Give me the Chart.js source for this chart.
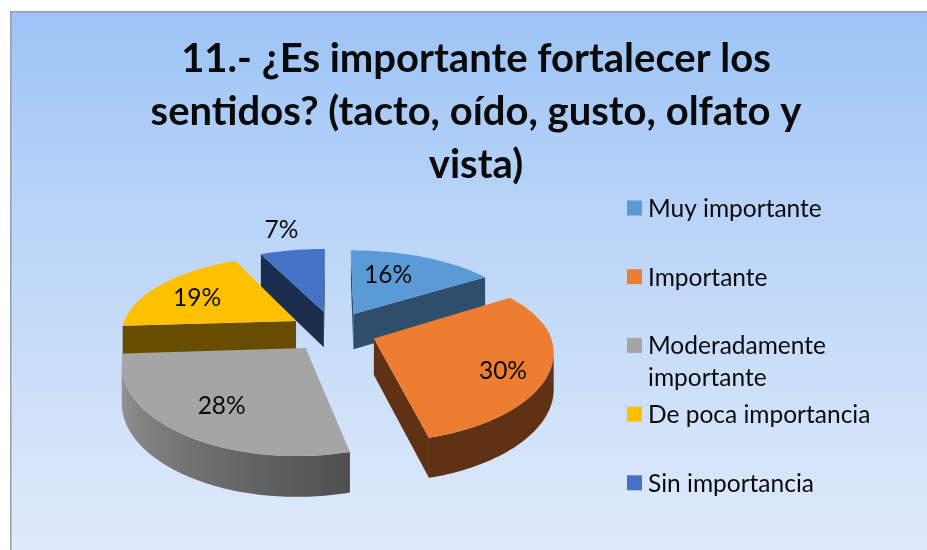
<!DOCTYPE html>
<html>
<head>
<meta charset="utf-8">
<style>html,body{margin:0;padding:0;background:#fff}canvas{display:block}</style>
<script src="https://cdn.jsdelivr.net/npm/chart.js@4"></script>
</head>
<body>
<canvas id="c" width="927" height="550"></canvas>
<script>
const titleLines = ['11.- ¿Es importante fortalecer los', 'sentidos? (tacto, oído, gusto, olfato y', 'vista)'];
const categories = ['Muy importante', 'Importante', 'Moderadamente importante', 'De poca importancia', 'Sin importancia'];
const values = [16, 30, 28, 19, 7];
const sliceColors = ['#5b9bd5', '#ed7d31', '#a5a5a5', '#ffc000', '#4472c4'];
const wallShade = [0.5, 0.4, 0.48, 0.4, 0.4];
const labelRadius = [0.87, 1.02, 0.96, 0.935, 1.664];
const labelShiftDeg = [-5, 4.5, -1.4, -2.7, 0];
const legendLines = [['Muy importante'], ['Importante'], ['Moderadamente', 'importante'], ['De poca importancia'], ['Sin importancia']];

const view = {cx: 333, cy: 331, a: 175, b: 81, p: 0.184, k: 0.8, skew: 4, depth: 36, explode: 0.25};
const FONT = 'Lato, "Open Sans", sans-serif';

function project(u, v, lowered) {
  const w = 1 - view.p * v;
  return {
    x: view.cx + view.a * u / Math.pow(w, view.k) - view.skew * Math.max(v, 0),
    y: view.cy + view.b * v / w + (lowered ? view.depth / Math.sqrt(w) : 0)
  };
}
function shadeColor(hex, f) {
  const n = parseInt(hex.slice(1), 16);
  return `rgb(${Math.round((n >> 16 & 255) * f)},${Math.round((n >> 8 & 255) * f)},${Math.round((n & 255) * f)})`;
}
function polygon(ctx, pts, fill) {
  ctx.beginPath();
  pts.forEach((p, i) => i ? ctx.lineTo(p.x, p.y) : ctx.moveTo(p.x, p.y));
  ctx.closePath();
  ctx.fillStyle = fill;
  ctx.fill();
}
function wallFacing(pts) {
  let s = 0;
  pts.forEach((p, i) => {
    const q = pts[(i + 1) % pts.length];
    s += p.x * q.y - q.x * p.y;
  });
  return s < 0;
}

const backdrop = {
  id: 'backdrop',
  beforeDraw(chart) {
    const ctx = chart.ctx;
    ctx.save();
    const g = ctx.createLinearGradient(0, 12, 0, 550);
    g.addColorStop(0, '#9cc4f6');
    g.addColorStop(0.35, '#b7d3f7');
    g.addColorStop(1, '#dfebfb');
    ctx.fillStyle = '#ffffff';
    ctx.fillRect(0, 0, 927, 550);
    ctx.fillStyle = '#989ca3';
    ctx.fillRect(10, 11, 917, 539);
    ctx.fillStyle = g;
    ctx.fillRect(11.5, 12.5, 915.5, 537.5);
    ctx.restore();
  }
};

const pie3d = {
  id: 'pie3d',
  beforeDatasetDraw(chart, args) {
    const ctx = chart.ctx;
    const meta = args.meta;
    const colors = chart.data.datasets[0].backgroundColor;
    const order = meta.data.map((arc, i) => {
      const t1 = arc.startAngle + Math.PI / 2, t2 = arc.endAngle + Math.PI / 2;
      return {i, t1, t2, m: (t1 + t2) / 2};
    }).sort((A, B) => (-Math.cos(A.m)) - (-Math.cos(B.m)));

    ctx.save();
    order.forEach(s => {
      const ox = view.explode * Math.sin(s.m), oy = -view.explode * Math.cos(s.m);
      const rim = [];
      const n = Math.max(8, Math.round((s.t2 - s.t1) * 50));
      for (let k = 0; k <= n; k++) {
        const t = s.t1 + (s.t2 - s.t1) * k / n;
        rim.push({u: ox + Math.sin(t), v: oy - Math.cos(t), t});
      }
      const tip = {u: ox, v: oy};
      const top = q => project(q.u, q.v, false);
      const low = q => project(q.u, q.v, true);
      const base = colors[s.i];
      const wall = (A, B, fill) => {
        const q = [top(A), top(B), low(B), low(A)];
        if (wallFacing(q)) {
          polygon(ctx, q, fill);
        }
      };
      wall(tip, rim[0], shadeColor(base, wallShade[s.i]));
      wall(rim[n], tip, shadeColor(base, wallShade[s.i]));

      // outer rim: one piece, shaded left to right
      const seen = [];
      for (let k = 0; k < n; k++) {
        const q = [top(rim[k]), top(rim[k + 1]), low(rim[k + 1]), low(rim[k])];
        if (wallFacing(q)) {
          if (!seen.length) seen.push(rim[k]);
          seen.push(rim[k + 1]);
        }
      }
      if (seen.length > 1) {
        const xs = seen.map(q => top(q).x);
        const x0 = Math.min(...xs), x1 = Math.max(...xs);
        const grad = ctx.createLinearGradient(x0, 0, x1 + 0.01, 0);
        seen.forEach((q, idx) => {
          const deg = q.t * 180 / Math.PI;
          const extra = Math.max(0, Math.min(1, (deg - 166) / 100)) * 0.47;
          grad.addColorStop((xs[idx] - x0) / (x1 + 0.01 - x0), shadeColor(base, wallShade[s.i] + extra));
        });
        polygon(ctx, [...seen.map(top), ...seen.slice().reverse().map(low)], grad);
      }
      polygon(ctx, [top(tip), ...rim.map(top)], base);
    });
    ctx.restore();
    return false;
  },
  afterDatasetsDraw(chart) {
    const ctx = chart.ctx;
    const meta = chart.getDatasetMeta(0);
    ctx.save();
    ctx.font = '24.5px ' + FONT;
    ctx.fillStyle = '#0a0a0a';
    ctx.textAlign = 'center';
    ctx.textBaseline = 'middle';
    meta.data.forEach((arc, i) => {
      const m = (arc.startAngle + arc.endAngle) / 2 + Math.PI / 2 + labelShiftDeg[i] * Math.PI / 180;
      const p = project(labelRadius[i] * Math.sin(m), -labelRadius[i] * Math.cos(m), false);
      ctx.fillText(values[i] + '%', p.x, p.y);
    });
    // legend
    const colors = chart.data.datasets[0].backgroundColor;
    ctx.textAlign = 'left';
    ctx.textBaseline = 'alphabetic';
    legendLines.forEach((lines, i) => {
      const y = 200.5 + i * 68.7;
      ctx.fillStyle = colors[i];
      ctx.fillRect(627, y, 15, 15);
      ctx.fillStyle = '#0a0a0a';
      lines.forEach((t, j) => ctx.fillText(t, 648, y + 16.5 + j * 32));
    });
    ctx.restore();
  }
};

new Chart(document.getElementById('c'), {
  type: 'pie',
  data: {
    labels: categories,
    datasets: [{data: values, backgroundColor: sliceColors, borderWidth: 0}]
  },
  options: {
    responsive: false,
    animation: false,
    layout: {padding: {left: 25, right: 0, top: 0, bottom: 0}},
    plugins: {
      legend: {display: false},
      tooltip: {enabled: false},
      title: {
        display: true,
        text: titleLines,
        color: '#0a0a0a',
        font: {family: FONT, size: 40, weight: 'bold', lineHeight: 53 / 40},
        padding: {top: 33, bottom: 0}
      }
    }
  },
  plugins: [backdrop, pie3d]
});
</script>
</body>
</html>
